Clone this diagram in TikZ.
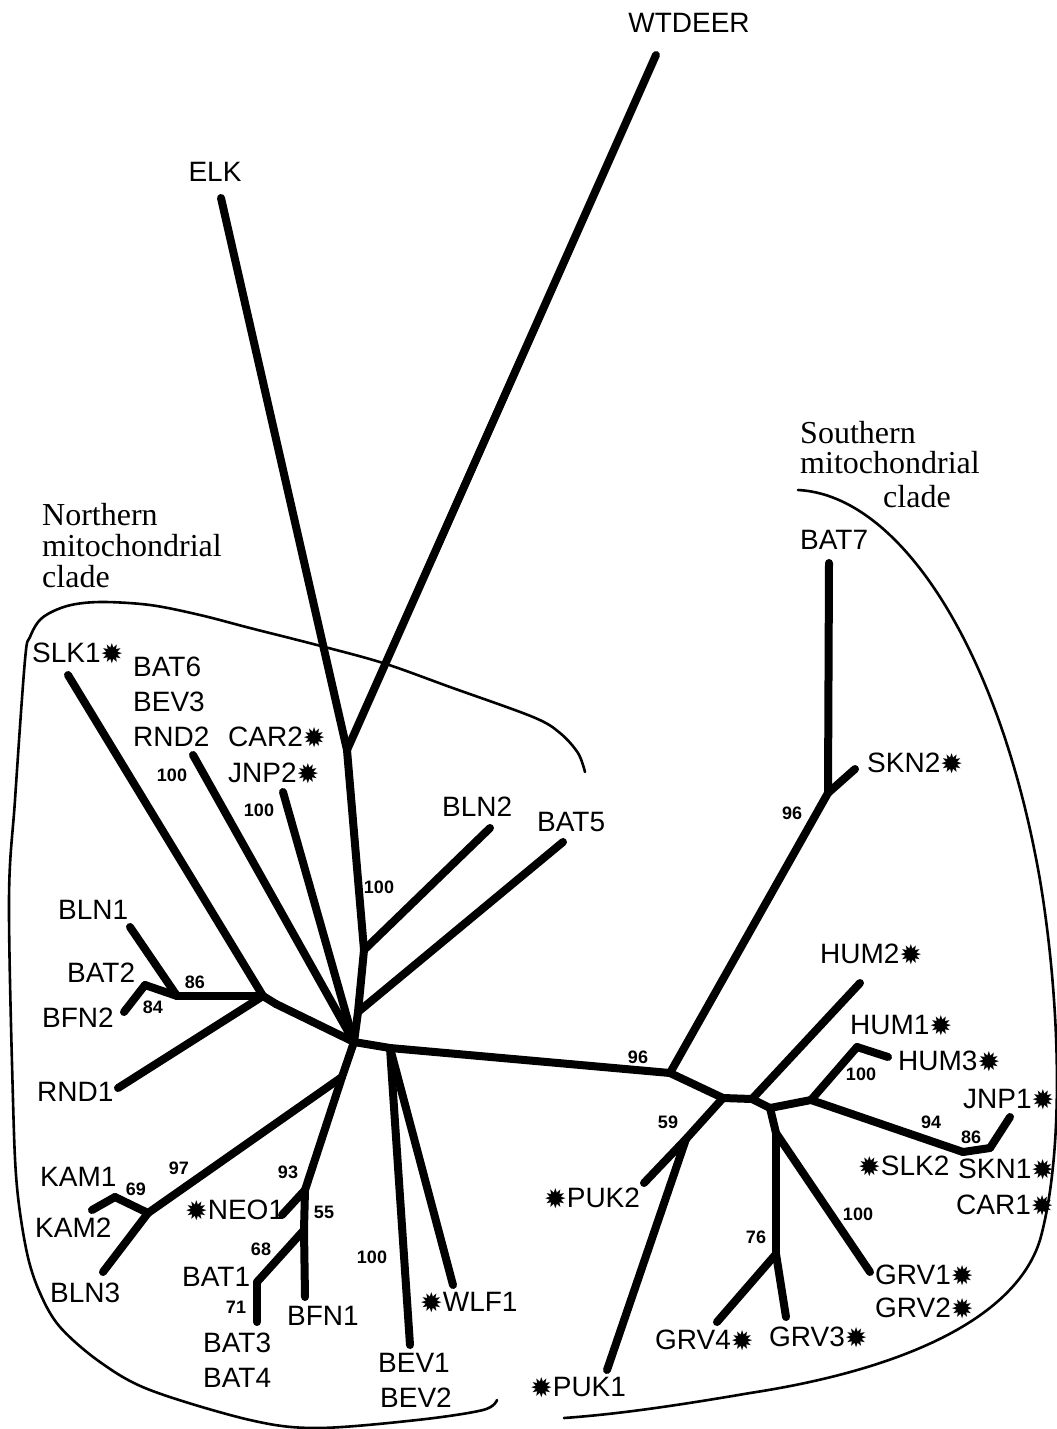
\documentclass[tikz,border=0pt]{standalone}
\usepackage{fontspec}
\setmainfont{Liberation Serif}
\setsansfont{Liberation Sans}
\newfontfamily\starfont{DejaVu Sans}
\usetikzlibrary{positioning}
\newcommand{\hit}{{\starfont\fontsize{27}{27}\selectfont\raisebox{-1pt}{✹}}}

\begin{document}
\begin{tikzpicture}[
    x=1pt, y=-1pt,
    branch/.style={line width=8pt, line cap=round, line join=round},
    cladeline/.style={line width=2.6pt, line cap=round},
    taxon/.style={font=\fontsize{28}{30}\selectfont\sffamily, inner sep=0pt, anchor=west},
    boot/.style={font=\fontsize{18}{18}\selectfont\sffamily\bfseries, inner sep=0pt},
    cladelabel/.style={font=\fontsize{32}{31}\selectfont, inner sep=0pt, anchor=base west}
]
    \useasboundingbox (0,0) rectangle (1057,1429);

    % =========================================================================
    % TREE VERTICES
    % =========================================================================
    % outgroups and northern stem
    \coordinate (elk) at (221,198);
    \coordinate (wtd) at (656,55);
    \coordinate (jtop) at (347,750);
    \coordinate (jbln2) at (364,950);
    \coordinate (jbat5) at (358,1012);
    \coordinate (ctr) at (354,1042);
    \coordinate (bln2) at (490,828);
    \coordinate (bat5) at (563,842);
    % northern clade
    \coordinate (slk1) at (68,675);
    \coordinate (rnd2) at (193,755);
    \coordinate (jnp2) at (283,792);
    \coordinate (nl1) at (263,996);
    \coordinate (nl2) at (276,1004);
    \coordinate (n86) at (177,996);
    \coordinate (bln1) at (130,927);
    \coordinate (n84) at (145,985);
    \coordinate (bfn2) at (124,1012);
    \coordinate (rnd1) at (118,1088);
    \coordinate (nd) at (342,1077);
    \coordinate (k97) at (148,1213);
    \coordinate (k69) at (115,1197);
    \coordinate (kam2) at (92,1210);
    \coordinate (bln3) at (103,1272);
    \coordinate (n93) at (305,1190);
    \coordinate (neo1) at (282,1215);
    \coordinate (n55) at (304,1230);
    \coordinate (n68) at (257,1282);
    \coordinate (bat34) at (257,1322);
    \coordinate (bfn1) at (305,1297);
    \coordinate (nbw) at (390,1048);
    \coordinate (bev) at (410,1345);
    \coordinate (wlf1) at (453,1285);
    % southern clade
    \coordinate (sa) at (670,1073);
    \coordinate (s96) at (828,793);
    \coordinate (bat7) at (829,563);
    \coordinate (skn2) at (855,769);
    \coordinate (sb) at (723,1098);
    \coordinate (sc) at (752,1099);
    \coordinate (s59) at (686,1139);
    \coordinate (puk2) at (644,1183);
    \coordinate (puk1) at (607,1370);
    \coordinate (hum2) at (860,983);
    \coordinate (sd) at (770,1108);
    \coordinate (se) at (811,1100);
    \coordinate (sf) at (776,1133);
    \coordinate (s76) at (776,1254);
    \coordinate (grv4) at (717,1322);
    \coordinate (grv3) at (786,1317);
    \coordinate (grv1) at (870,1272);
    \coordinate (sh) at (857,1047);
    \coordinate (hum3) at (888,1057);
    \coordinate (s94) at (963,1152);
    \coordinate (s86) at (990,1148);
    \coordinate (jnp1) at (1010,1117);

    % =========================================================================
    % BRANCHES
    % =========================================================================
    \foreach \u/\v in {jtop/elk, jtop/wtd, jtop/jbln2, jbln2/bln2, jbln2/jbat5, jbat5/bat5, jbat5/ctr,
                       ctr/rnd2, ctr/jnp2, ctr/nl2, nl2/nl1, nl1/slk1, nl1/n86, n86/bln1, n86/n84, n84/bfn2, nl1/rnd1,
                       ctr/nd, nd/k97, k97/k69, k69/kam2, k97/bln3, nd/n93, n93/neo1, n93/n55, n55/n68, n68/bat34, n55/bfn1,
                       ctr/nbw, nbw/bev, nbw/wlf1, nbw/sa} {
        \draw[branch] (\u) -- (\v);
    }
    \foreach \u/\v in {sa/s96, s96/bat7, s96/skn2, sa/sb, sb/sc, sb/s59, s59/puk2, s59/puk1,
                       sc/hum2, sc/sd, sd/se, sd/sf, sf/s76, s76/grv4, s76/grv3, sf/grv1,
                       se/sh, sh/hum3, se/s94, s94/s86, s86/jnp1} {
        \draw[branch] (\u) -- (\v);
    }

    % =========================================================================
    % CLADE OUTLINES
    % =========================================================================
    \draw[cladeline] plot[smooth, tension=0.55] coordinates {
        (585,772) (578,753) (560,733) (533,717) (450,687) (383,663) (317,645) (250,628)
        (200,615) (150,605) (100,602) (67,606) (42,618) (30,637) (25,660)
        (15,800) (9,900) (13,1100) (17,1187) (27,1253) (40,1293) (60,1327)
        (100,1362) (150,1390) (250,1420) (317,1428) (417,1420) (483,1410) (497,1400)};
    \draw[cladeline] (798,490) .. controls (900,495) and (1000,650) .. (1040,880)
        .. controls (1060,1000) and (1065,1150) .. (1040,1240)
        .. controls (1015,1320) and (900,1370) .. (750,1393)
        .. controls (680,1405) and (620,1414) .. (564,1418);

    % =========================================================================
    % TAXON LABELS
    % =========================================================================
    \node[taxon, anchor=center] (tWTDEER) at (689,23) {WTDEER};
    \node[taxon, anchor=center] (tELK) at (215,172) {ELK};
    \node[taxon] (tSLK1) at (32,653) {SLK1\hit};
    \node[taxon] (tBAT6) at (133,667) {BAT6};
    \node[taxon] (tBEV3) at (133,702) {BEV3};
    \node[taxon] (tRND2) at (133,737) {RND2};
    \node[taxon] (tCAR2) at (228,737) {CAR2\hit};
    \node[taxon] (tJNP2) at (228,773) {JNP2\hit};
    \node[taxon] (tBLN2) at (442,807) {BLN2};
    \node[taxon] (tBAT5) at (537,822) {BAT5};
    \node[taxon] (tBLN1) at (58,910) {BLN1};
    \node[taxon] (tBAT2) at (67,973) {BAT2};
    \node[taxon] (tBFN2) at (42,1018) {BFN2};
    \node[taxon] (tRND1) at (37,1092) {RND1};
    \node[taxon] (tKAM1) at (40,1177) {KAM1};
    \node[taxon] (tKAM2) at (35,1228) {KAM2};
    \node[taxon] (tBLN3) at (50,1293) {BLN3};
    \node[taxon] (tNEO1) at (185,1210) {\hit NEO1};
    \node[taxon] (tBAT1) at (182,1277) {BAT1};
    \node[taxon] (tBAT3) at (203,1343) {BAT3};
    \node[taxon] (tBAT4) at (203,1378) {BAT4};
    \node[taxon] (tBFN1) at (287,1316) {BFN1};
    \node[taxon] (tWLF1) at (420,1303) {\hit WLF1};
    \node[taxon] (tBEV1) at (378,1363) {BEV1};
    \node[taxon] (tBEV2) at (380,1398) {BEV2};
    \node[taxon] (tBAT7) at (800,540) {BAT7};
    \node[taxon] (tSKN2) at (867,763) {SKN2\hit};
    \node[taxon] (tHUM2) at (820,954) {HUM2\hit};
    \node[taxon] (tHUM1) at (850,1026) {HUM1\hit};
    \node[taxon] (tHUM3) at (898,1061) {HUM3\hit};
    \node[taxon] (tJNP1) at (963,1100) {JNP1\hit};
    \node[taxon] (tSLK2) at (858,1166) {\hit SLK2};
    \node[taxon] (tSKN1) at (958,1169) {SKN1\hit};
    \node[taxon] (tCAR1) at (956,1205) {CAR1\hit};
    \node[taxon] (tPUK2) at (544,1198) {\hit PUK2};
    \node[taxon] (tGRV1) at (875,1275) {GRV1\hit};
    \node[taxon] (tGRV2) at (875,1308) {GRV2\hit};
    \node[taxon] (tGRV4) at (655,1340) {GRV4\hit};
    \node[taxon] (tGRV3) at (769,1337) {GRV3\hit};
    \node[taxon] (tPUK1) at (530,1388) {\hit PUK1};

    % =========================================================================
    % BOOTSTRAP VALUES
    % =========================================================================
    \node[boot] (bRND2) at (172,775) {100};
    \node[boot] (bJNP2) at (259,810) {100};
    \node[boot] (bStem) at (379,887) {100};
    \node[boot] (bBLN1) at (195,982) {86};
    \node[boot] (bBFN2) at (153,1007) {84};
    \node[boot] (bKAM) at (179,1168) {97};
    \node[boot] (bKAM1) at (136,1189) {69};
    \node[boot] (bNEO1) at (288,1172) {93};
    \node[boot] (bBFN1) at (324,1212) {55};
    \node[boot] (bBAT1) at (261,1249) {68};
    \node[boot] (bBAT3) at (236,1307) {71};
    \node[boot] (bBEV) at (372,1257) {100};
    \node[boot] (bSouth) at (638,1057) {96};
    \node[boot] (bBAT7) at (792,813) {96};
    \node[boot] (bPUK) at (668,1122) {59};
    \node[boot] (bHUM) at (861,1074) {100};
    \node[boot] (bSLK2) at (931,1122) {94};
    \node[boot] (bJNP1) at (971,1137) {86};
    \node[boot] (bGRV1) at (858,1214) {100};
    \node[boot] (bGRV3) at (756,1237) {76};

    % =========================================================================
    % CLADE NAMES
    % =========================================================================
    \node[cladelabel] (nNorth1) at (42,525) {Northern};
    \node[cladelabel] (nNorth2) at (42,556) {mitochondrial};
    \node[cladelabel] (nNorth3) at (42,587) {clade};
    \node[cladelabel] (nSouth1) at (800,443) {Southern};
    \node[cladelabel] (nSouth2) at (800,473) {mitochondrial};
    \node[cladelabel] (nSouth3) at (883,507) {clade};

\end{tikzpicture}
\end{document}
